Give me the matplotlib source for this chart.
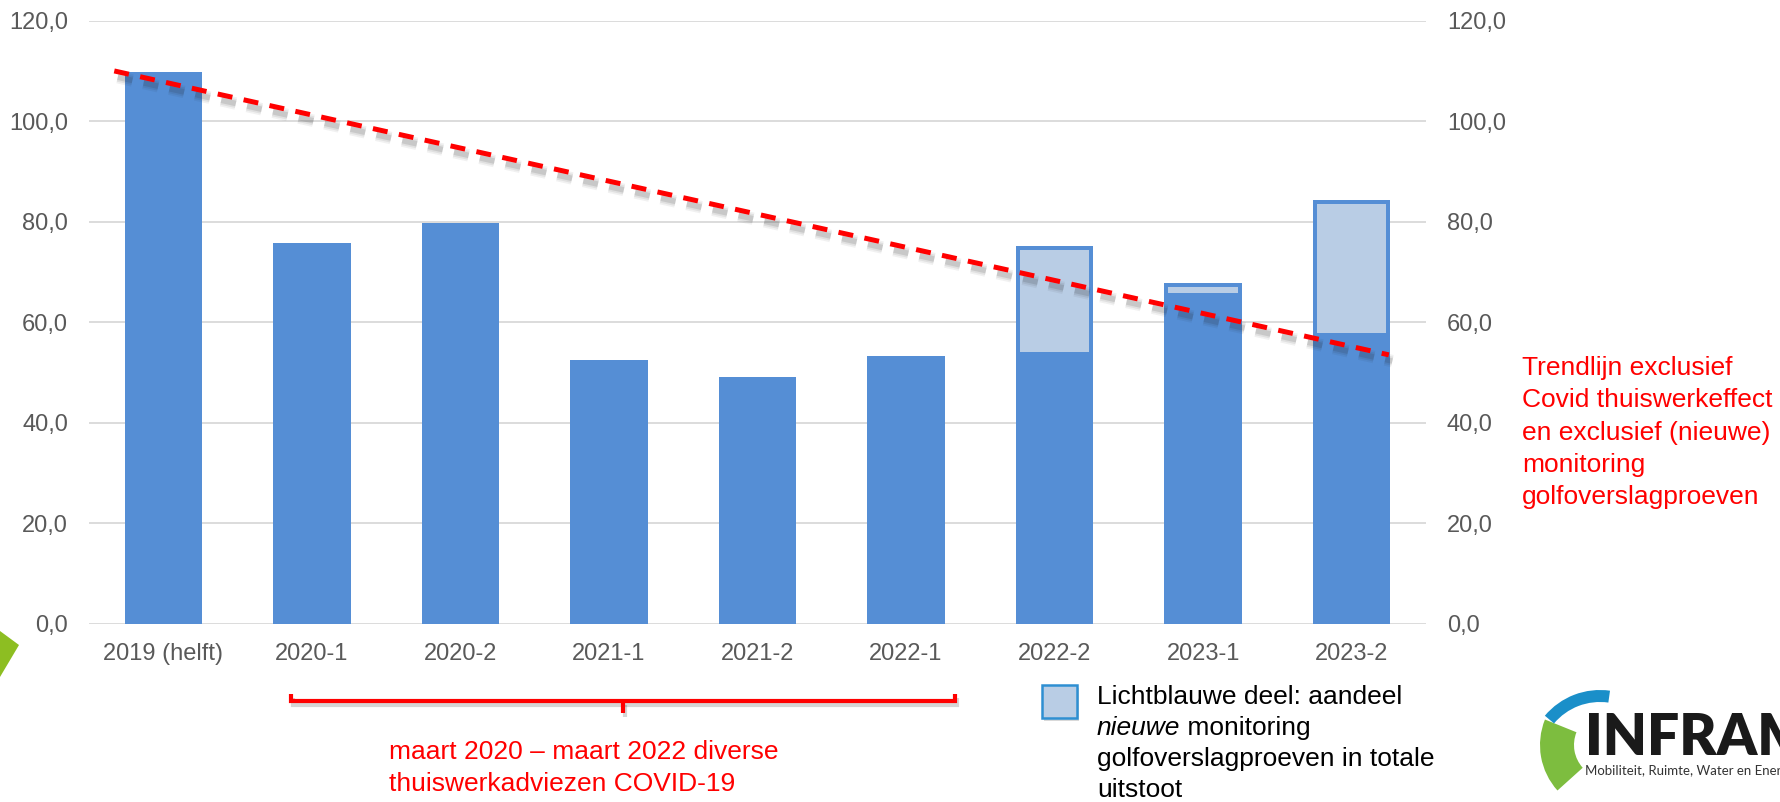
import matplotlib
matplotlib.use('Agg')
import matplotlib.pyplot as plt
import matplotlib.patheffects as pe
import matplotlib.transforms as mtrans
from matplotlib.patches import Rectangle, Polygon, Wedge
from matplotlib.lines import Line2D

# ---------------- data ----------------
categories = ['2019 (helft)', '2020-1', '2020-2', '2021-1', '2021-2',
              '2022-1', '2022-2', '2023-1', '2023-2']
totaal = [109.8, 75.7, 79.7, 52.5, 49.0, 53.3, 75.2, 67.9, 84.3]   # total bar height
basis = [109.8, 75.7, 79.7, 52.5, 49.0, 53.3, 54.0, 65.9, 57.8]    # dark part (excl. new monitoring)
trend_x = [-0.33, 8.25]
trend_y = [110.0, 53.5]
yticks = [0, 20, 40, 60, 80, 100, 120]

legend_lines = ['Lichtblauwe deel: aandeel', 'nieuwe', ' monitoring',
                'golfoverslagproeven in totale', 'uitstoot']
trend_note = ['Trendlijn exclusief', 'Covid thuiswerkeffect',
              'en exclusief (nieuwe)', 'monitoring', 'golfoverslagproeven']
covid_note = ['maart 2020 \u2013 maart 2022 diverse', 'thuiswerkadviezen COVID-19']

# ---------------- style ----------------
W, H = 1781, 802
plt.rcParams['font.family'] = ['Liberation Sans', 'DejaVu Sans']
DARK = '#558ED5'
LIGHT = '#B9CDE5'
RED = '#FF0000'
GRAY = '#595959'

fig = plt.figure(figsize=(W / 100, H / 100), dpi=100)
px = mtrans.Affine2D().scale(1 / W, -1 / H).translate(0, 1) + fig.transFigure  # pixel coords, y down

ax_l, ax_r, ax_t, ax_b = 89, 1426, 20.7, 623.7
ax = fig.add_axes([ax_l / W, (H - ax_b) / H, (ax_r - ax_l) / W, (ax_b - ax_t) / H])
ax.set_xlim(-0.5, len(categories) - 0.5)
ax.set_ylim(0, 120)

x = list(range(len(categories)))
bw = 0.522
ax.bar(x, totaal, width=bw, color=DARK, zorder=2)

# light inner part (with blue border look)
dx = 4 * (len(categories)) / (ax_r - ax_l)
dy = 4 * 120 / (ax_b - ax_t)
lx, lh, lb = [], [], []
for i, (t, b) in enumerate(zip(totaal, basis)):
    if t > b:
        lx.append(i)
        lb.append(b)
        lh.append(t - b - dy)
ax.bar(lx, lh, bottom=lb, width=bw - 2 * dx, color=LIGHT, zorder=2.5)

# trend line with soft shadow
shadow = [pe.SimpleLineShadow(offset=(2.5, -4.5), shadow_color='#202020', alpha=a, linewidth=w)
          for a, w in [(0.06, 9), (0.08, 6.5), (0.12, 4)]]
ax.plot(trend_x, trend_y, color=RED, lw=3.6, ls=(0, (3.0, 2.3)),
        dash_capstyle='butt', zorder=4,
        path_effects=shadow + [pe.Normal()])

# axes styling
ax.set_yticks(yticks)
ax.set_yticklabels([f'{v:.1f}'.replace('.', ',') for v in yticks])
ax.set_xticks(x)
ax.set_xticklabels(categories)
ax.tick_params(axis='y', length=0, labelsize=17, labelcolor=GRAY, pad=15,
               labelleft=True, labelright=True)
ax.tick_params(axis='x', length=0, labelsize=17, labelcolor=GRAY, pad=14)
ax.yaxis.grid(True, color='#D9D9D9', lw=1.3, zorder=0)
ax.set_axisbelow(True)
for s in ax.spines.values():
    s.set_visible(False)

# ---------------- bracket ----------------
bx0, bx1, bxc, by = 291, 955, 623, 701
bracket = [([bx0, bx0, bx1, bx1], [694, by, by, 694]), ([bxc, bxc], [by, 713])]
for xs, ys in bracket:
    fig.add_artist(Line2D(xs, ys, transform=px, color=RED, lw=3.0,
                          solid_capstyle='butt', solid_joinstyle='miter',
                          path_effects=[pe.SimpleLineShadow(offset=(1.5, -3), shadow_color='#303030', alpha=0.2),
                                        pe.Normal()]))

for k, line in enumerate(covid_note):
    fig.text(389 / W, 1 - (752 + 32 * k) / H, line, color=RED, fontsize=19,
             ha='left', va='center')

for k, line in enumerate(trend_note):
    fig.text(1522 / W, 1 - (368 + 32.3 * k) / H, line, color=RED, fontsize=19,
             ha='left', va='center')

# ---------------- legend ----------------
fig.add_artist(Rectangle((1044, 688), 35, 33, transform=px, facecolor='#000000',
                         alpha=0.15, edgecolor='none'))
fig.add_artist(Rectangle((1042, 685), 35, 33, transform=px, facecolor=LIGHT,
                         edgecolor='#2E8FD2', lw=1.8))

renderer = fig.canvas.get_renderer()
ly = [697, 728, 759, 790]
fig.text(1097 / W, 1 - ly[0] / H, legend_lines[0], fontsize=19, color='black', va='center')
t_it = fig.text(1097 / W, 1 - ly[1] / H, legend_lines[1], fontsize=19, color='black',
                va='center', style='italic')
bb = t_it.get_window_extent(renderer)
fig.text(bb.x1 / fig.bbox.width, 1 - ly[1] / H, legend_lines[2], fontsize=19, color='black', va='center')
fig.text(1097 / W, 1 - ly[2] / H, legend_lines[3], fontsize=19, color='black', va='center')
fig.text(1097 / W, 1 - ly[3] / H, legend_lines[4], fontsize=19, color='black', va='center')

# ---------------- decorations (logo fragments) ----------------
fig.add_artist(Polygon([(0, 631), (19, 645), (0, 677)], closed=True, transform=px,
                       facecolor='#8DBE22', edgecolor='none'))

pxu = mtrans.Affine2D().scale(1 / W, 1 / H) + fig.transFigure  # pixel coords, y up
fig.add_artist(Wedge((1608, H - 745), 68, 158, 222, width=34, transform=pxu,
                     facecolor='#7DBD3F', edgecolor='none'))
fig.add_artist(Wedge((1600, 40), 72, 82, 140, width=12, transform=pxu,
                     facecolor='#1A8FC9', edgecolor='none'))
fig.text(1585 / W, 1 - 755 / H, 'INFRAM', fontsize=41, fontweight='heavy',
         family=['Lato', 'DejaVu Sans'], color='#1A1A1A', va='baseline', ha='left')
fig.text(1585 / W, 1 - 775 / H, 'Mobiliteit, Ruimte, Water en Energie', fontsize=9.5,
         family=['Lato', 'DejaVu Sans'], color='#333333', va='baseline', ha='left')

fig.savefig('out.png', dpi=100)
